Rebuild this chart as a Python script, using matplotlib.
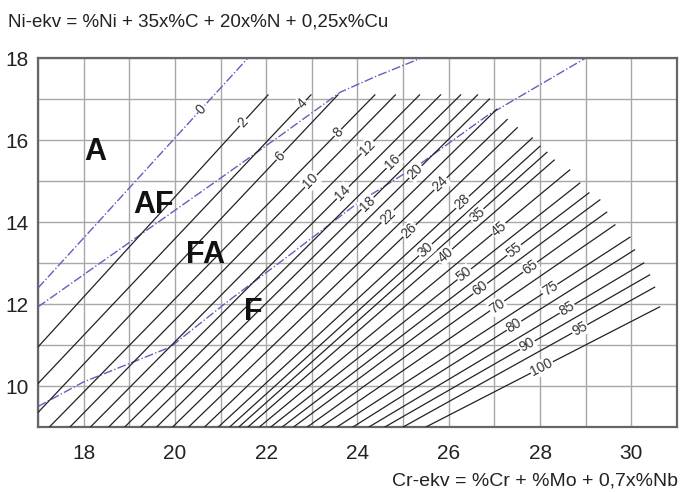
import numpy as np
import matplotlib
matplotlib.use("Agg")
import matplotlib.pyplot as plt

plt.rcParams['font.family'] = ['Liberation Sans', 'DejaVu Sans']

# ---- data ----
fn_values = [2, 4, 6, 8, 10, 12, 14, 16, 18, 20, 22, 24, 26, 28, 30,
             35, 40, 45, 50, 55, 60, 65, 70, 75, 80, 85, 90, 95, 100]
# lower point of each iso-FN line (Cr-ekv where it meets Ni-ekv = 9)
fn_x_low = [15.4, 16.1, 16.7, 17.25, 17.7, 18.15, 18.55, 18.9, 19.25, 19.6,
            19.95, 20.3, 20.65, 20.95, 21.2, 21.4, 21.6, 21.85, 22.1, 22.35,
            22.6, 22.9, 23.2, 23.55, 23.9, 24.25, 24.6, 25.0, 25.5]
fn_y_low = [9.0] * len(fn_values)
# upper end of each iso-FN line
fn_x_top = [22.04, 22.98, 23.57, 24.38, 24.83, 25.36, 25.82, 26.26, 26.63, 26.89,
            27.05, 27.28, 27.5, 27.83, 28.0, 28.15, 28.31, 28.65, 28.87, 29.07,
            29.31, 29.46, 29.64, 29.97, 30.07, 30.27, 30.40, 30.51, 30.62]
fn_y_top = [17.1, 17.1, 17.1, 17.1, 17.1, 17.1, 17.1, 17.1, 17.1, 17.0,
            16.75, 16.5, 16.3, 16.05, 15.85, 15.7, 15.51, 15.27, 14.95, 14.71,
            14.54, 14.24, 13.93, 13.63, 13.32, 13.0, 12.71, 12.41, 11.93]
# Cr-ekv of the label on each line
fn_label_x = [21.49, 22.80, 22.30, 23.57, 22.98, 24.22, 23.68, 24.77, 24.22, 25.27,
              24.66, 25.82, 25.14, 26.30, 25.49, 26.62, 25.93, 27.10, 26.34, 27.43,
              26.69, 27.78, 27.06, 28.22, 27.43, 28.59, 27.72, 28.87, 28.04]

# dash-dot phase boundaries
zero_x = [17.0, 21.6]
zero_y = [12.39, 18.0]
zero_label_x = 20.58
af_fa_x = [17.0, 19.0, 21.0, 22.3, 23.63, 24.4, 25.4]
af_fa_y = [11.93, 13.5, 15.07, 16.1, 17.17, 17.55, 18.0]
fa_f_x = [17.0, 18.0, 19.9, 21.2, 22.4, 24.0, 25.4, 26.85, 29.0]
fa_f_y = [9.5, 10.1, 10.95, 12.1, 13.1, 14.46, 15.44, 16.6, 18.0]

regions = ['A', 'AF', 'FA', 'F']
region_x = [18.26, 19.53, 20.66, 21.71]
region_y = [15.7, 14.41, 13.2, 11.8]

x_ticks = [18, 20, 22, 24, 26, 28, 30]
y_ticks = [10, 12, 14, 16, 18]

# ---- figure ----
W, H = 682, 492
fig = plt.figure(figsize=(W / 100, H / 100), dpi=100)
ax = fig.add_axes([38 / W, 1 - 427 / H, (677 - 38) / W, (427 - 58) / H])
ax.set_xlim(17, 31)
ax.set_ylim(9, 18)

ax.set_xticks(x_ticks)
ax.set_yticks(y_ticks)
ax.set_xticks(np.arange(17, 32, 1), minor=True)
ax.set_yticks(np.arange(9, 19, 1), minor=True)
ax.grid(True, which='both', color='#a8a8a8', lw=1.0)
ax.set_axisbelow(True)
ax.tick_params(which='both', length=0)
ax.tick_params(axis='x', pad=12, labelsize=15, colors='#222222')
ax.tick_params(axis='y', pad=7, labelsize=15, colors='#222222')
for s in ax.spines.values():
    s.set_color('#666666')
    s.set_linewidth(1.6)

blue = '#6060c0'
ax.plot(zero_x, zero_y, color=blue, lw=1.0, ls='-.', zorder=3)
ax.plot(af_fa_x, af_fa_y, color=blue, lw=1.0, ls='-.', zorder=3)
ax.plot(fa_f_x, fa_f_y, color=blue, lw=1.0, ls='-.', zorder=3)

def disp_angle(x0, y0, x1, y1):
    p0 = ax.transData.transform((x0, y0))
    p1 = ax.transData.transform((x1, y1))
    return np.degrees(np.arctan2(p1[1] - p0[1], p1[0] - p0[0]))

for v, xl, yl, xt, yt, lx in zip(fn_values, fn_x_low, fn_y_low, fn_x_top, fn_y_top, fn_label_x):
    ax.plot([xl, xt], [yl, yt], color='#222222', lw=0.9, zorder=4)
    ly = yl + (yt - yl) * (lx - xl) / (xt - xl)
    ang = disp_angle(xl, yl, xt, yt)
    ax.text(lx, ly, str(v), rotation=ang, rotation_mode='anchor', ha='center', va='center',
            fontsize=10, color='#333333', zorder=5,
            bbox=dict(facecolor='white', edgecolor='none', pad=0.6))

zy = zero_y[0] + (zero_y[1] - zero_y[0]) * (zero_label_x - zero_x[0]) / (zero_x[1] - zero_x[0])
ax.text(zero_label_x, zy, '0', rotation=disp_angle(zero_x[0], zero_y[0], zero_x[1], zero_y[1]),
        rotation_mode='anchor', ha='center', va='center', fontsize=10, color='#333333', zorder=5,
        bbox=dict(facecolor='white', edgecolor='none', pad=0.6))

for t, x, y in zip(regions, region_x, region_y):
    ax.text(x, y, t, fontsize=22, fontweight='bold', ha='center', va='center', color='#111111', zorder=6)

fig.text(8 / W, 1 - 22 / H, 'Ni-ekv = %Ni + 35x%C + 20x%N + 0,25x%Cu', fontsize=13.5,
         ha='left', va='center', color='#222222')
fig.text(678 / W, 1 - 481 / H, 'Cr-ekv = %Cr + %Mo + 0,7x%Nb', fontsize=14,
         ha='right', va='center', color='#222222')

fig.savefig('out.png', dpi=100)
